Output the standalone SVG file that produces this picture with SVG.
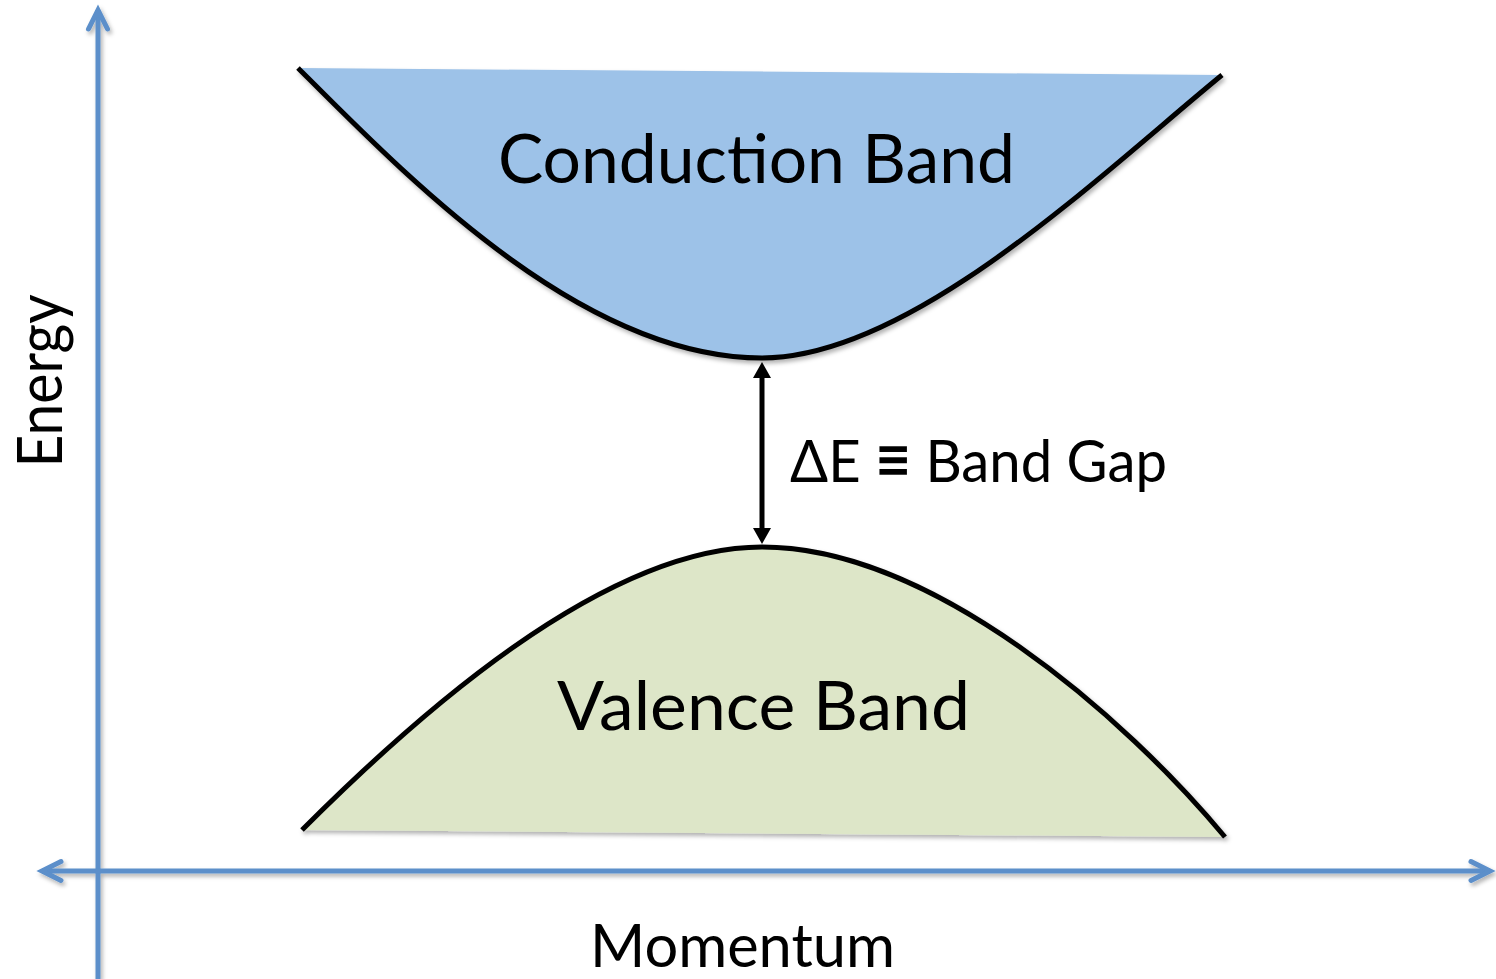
<svg xmlns="http://www.w3.org/2000/svg" width="1496" height="979" viewBox="0 0 1496 979">
<style>
.axis{fill:none;stroke:#5b8fca;stroke-width:5}
.curve{fill:none;stroke:#000;stroke-width:5;stroke-linecap:butt}
.lbl{font-family:Lato,"Liberation Sans",sans-serif;fill:#000}
</style>
<defs>
<filter id="sh" x="-10%" y="-10%" width="130%" height="130%">
<feDropShadow dx="2" dy="3" stdDeviation="2" flood-color="#000" flood-opacity="0.3"/>
</filter>
<marker id="chev" markerUnits="userSpaceOnUse" viewBox="-30 -20 40 40" markerWidth="40" markerHeight="40" refX="0" refY="0" orient="auto-start-reverse" overflow="visible">
<path d="M-19,-9.5 L0,0 L-19,9.5" fill="none" stroke="#5b8fca" stroke-width="5" stroke-linecap="round" stroke-linejoin="miter"/>
</marker>
<marker id="tri" markerUnits="userSpaceOnUse" viewBox="0 -10 20 20" markerWidth="20" markerHeight="20" refX="0" refY="0" orient="auto-start-reverse" overflow="visible">
<path d="M0,-9 L16,0 L0,9 Z" fill="#000"/>
</marker>
</defs>
<rect width="1496" height="979" fill="#fff"/>
<g id="axes" filter="url(#sh)">
<line id="energy-axis" class="axis" x1="98" y1="979" x2="98" y2="10" marker-end="url(#chev)"/>
<line id="momentum-axis" class="axis" x1="42" y1="871" x2="1490" y2="871" marker-start="url(#chev)" marker-end="url(#chev)"/>
</g>
<g id="conduction-band">
<g filter="url(#sh)">
<path d="M298,68 C408,178 582,358 762,358 C912,358 1102,173 1222,75 Z" fill="#9dc2e8"/>
<path class="curve" d="M298,68 C408,178 582,358 762,358 C912,358 1102,173 1222,75"/>
</g>
<text class="lbl" x="756.5" y="183" font-size="67" text-anchor="middle" textLength="517" lengthAdjust="spacingAndGlyphs">Conduction Band</text>
</g>
<g id="valence-band">
<g filter="url(#sh)">
<path d="M302,830 C412,720 602,547 762,547 C932,547 1125,717 1225,837 Z" fill="#dde6c8"/>
<path class="curve" d="M302,830 C412,720 602,547 762,547 C932,547 1125,717 1225,837"/>
</g>
<text class="lbl" x="763.5" y="730" font-size="67" text-anchor="middle" textLength="413" lengthAdjust="spacingAndGlyphs">Valence Band</text>
</g>
<g id="connectors">
<line x1="762" y1="378" x2="762" y2="528" stroke="#000" stroke-width="5" marker-start="url(#tri)" marker-end="url(#tri)"/>
</g>
<g id="gap-label">
<text class="lbl" x="790" y="482" font-size="58" textLength="377" lengthAdjust="spacingAndGlyphs">ΔE <tspan font-weight="bold" font-size="64">≡</tspan> Band Gap</text>
</g>
<g id="axis-labels">
<text class="lbl" x="742.5" y="967" font-size="60" text-anchor="middle" textLength="305" lengthAdjust="spacingAndGlyphs">Momentum</text>
<text class="lbl" x="0" y="0" font-size="62" text-anchor="middle" textLength="173" lengthAdjust="spacingAndGlyphs" transform="translate(62,381) rotate(-90)">Energy</text>
</g>
</svg>
